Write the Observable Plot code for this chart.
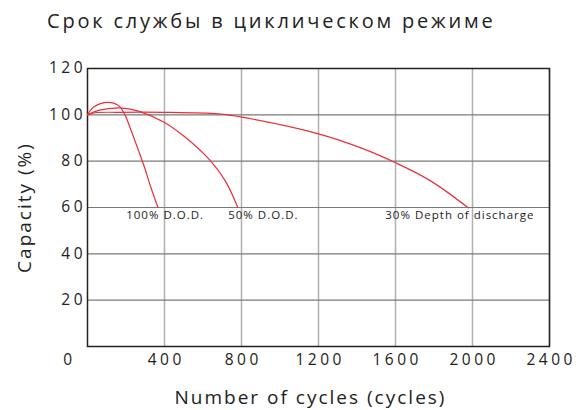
<!DOCTYPE html>
<html>
<head>
<meta charset="utf-8">
<script src="https://cdn.jsdelivr.net/npm/d3@7"></script>
<script src="https://cdn.jsdelivr.net/npm/@observablehq/plot@0.6"></script>
<style>
  body { margin: 0; background: #fff; }
  #wrap { position: relative; width: 582px; height: 410px; font-family: "Open Sans", sans-serif; }
  #title { position: absolute; left: 47px; top: 7px; font-size: 20px; letter-spacing: 2.8px; color: #222; white-space: nowrap; }
</style>
</head>
<body>
<div id="wrap">
  <div id="title">Срок службы в циклическом режиме</div>
</div>
<script>
const cycles100 = [0, 31, 106, 161, 192, 230, 265, 296, 326, 366];
const cap100    = [100, 103.3, 105.4, 104.0, 100.4, 92.5, 84.6, 77.4, 69.5, 60];

const cycles50 = [0, 57, 170, 265, 398, 508, 637, 715, 781];
const cap50    = [100, 101.9, 103.0, 101.6, 96.8, 90.3, 80.3, 71.6, 60];

const cycles30 = [0, 40, 161, 398, 681, 802, 1200, 1434, 1595, 1780, 1979];
const cap30    = [100, 100.9, 101.1, 101.1, 100.4, 99.0, 91.8, 85.3, 79.5, 71.6, 59.8];

const seriesNames  = ["100% D.O.D.", "50% D.O.D.", "30% Depth of discharge"];
const labelCycles  = [201, 731, 1547];
const labelCap     = [60, 60, 60];

const xTicks = [400, 800, 1200, 1600, 2000, 2400];
const yTicks = [20, 40, 60, 80, 100, 120];

const toRows = (xs, ys, name) => xs.map((x, i) => ({cycles: x, cap: ys[i], series: name}));
const rows = [
  ...toRows(cycles100, cap100, seriesNames[0]),
  ...toRows(cycles50, cap50, seriesNames[1]),
  ...toRows(cycles30, cap30, seriesNames[2])
];
const labels = seriesNames.map((n, i) => ({name: n, cycles: labelCycles[i], cap: labelCap[i]}));
const fmt = d => String(d);

const chart = Plot.plot({
  width: 582,
  height: 410,
  marginLeft: 87,
  marginRight: 33,
  marginTop: 68,
  marginBottom: 64,
  style: {fontFamily: "Open Sans, sans-serif", color: "#222", background: "#fff"},
  x: {domain: [0, 2400]},
  y: {domain: [0, 120]},
  marks: [
    Plot.gridX(xTicks, {stroke: "#b0b0b0", strokeOpacity: 1, strokeWidth: 1.5}),
    Plot.gridY(yTicks, {stroke: "#7a7a7a", strokeOpacity: 1, strokeWidth: 1.2}),
    Plot.frame({stroke: "#222", strokeWidth: 1.5}),
    Plot.axisX(xTicks, {tickSize: 0, tickPadding: 7, fontSize: 15.5, tickFormat: fmt, dx: 1.7, label: null}),
    Plot.axisX([0], {tickSize: 0, tickPadding: 7, fontSize: 15.5, tickFormat: fmt, dx: -18, label: null}),
    Plot.axisY(yTicks, {tickSize: 0, tickPadding: 1.5, fontSize: 15.5, tickFormat: fmt, label: null}),
    Plot.line(rows, {x: "cycles", y: "cap", z: "series", stroke: "#e8303a", strokeWidth: 1.2, curve: "catmull-rom"}),
    Plot.text(labels, {x: "cycles", y: "cap", text: "name", textAnchor: "start", dy: 8, fontSize: 11.5, fill: "#222"}),
    Plot.text(["Number of cycles (cycles)"], {frameAnchor: "bottom", textAnchor: "middle", dy: 57, dx: -8, fontSize: 19, fill: "#222"}),
    Plot.text(["Capacity (%)"], {frameAnchor: "left", textAnchor: "middle", dx: -63, rotate: -90, fontSize: 19, fill: "#222"})
  ]
});

// letter spacing to match the reference's wide typeface
chart.querySelectorAll("g[aria-label='x-axis tick label'] text, g[aria-label='y-axis tick label'] text")
  .forEach(t => t.style.letterSpacing = "3.5px");
chart.querySelectorAll("g[aria-label='text']").forEach(g => {
  const fs = parseFloat(g.getAttribute("font-size"));
  g.querySelectorAll("text").forEach(t => t.style.letterSpacing = fs < 14 ? "1px" : "2px");
});

document.getElementById("wrap").appendChild(chart);
</script>
</body>
</html>
